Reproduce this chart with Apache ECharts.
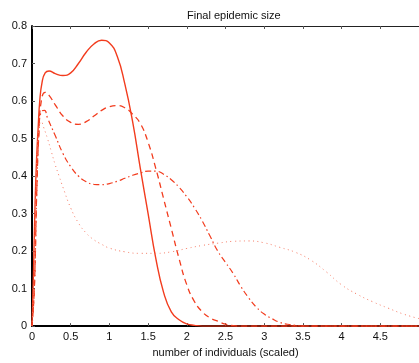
<!DOCTYPE html>
<html>
<head>
<meta charset="utf-8">
<script src="https://cdn.jsdelivr.net/npm/echarts@6/dist/echarts.min.js"></script>
<style>html,body{margin:0;padding:0;background:#fff}#c{width:419px;height:363px}</style>
</head>
<body>
<div id="c"></div>
<script>
var xTickLabels = ['0','0.5','1','1.5','2','2.5','3','3.5','4','4.5'];
var yTickLabels = ['0','0.1','0.2','0.3','0.4','0.5','0.6','0.7','0.8'];

var solidX = [0,0.02,0.04,0.06,0.08,0.1,0.13,0.17,0.22,0.3,0.4,0.5,0.6,0.7,0.8,0.9,1.0,1.1,1.2,1.3,1.4,1.5,1.6,1.7,1.8,1.9,2.0,2.1,2.2,5];
var solidY = [0,0.15,0.33,0.45,0.53,0.6,0.65,0.675,0.68,0.673,0.668,0.675,0.7,0.73,0.752,0.762,0.755,0.72,0.645,0.545,0.42,0.3,0.18,0.09,0.038,0.017,0.006,0.002,0,0];

var dashX = [0,0.03,0.06,0.09,0.12,0.17,0.22,0.3,0.4,0.5,0.6,0.7,0.8,0.9,1.0,1.1,1.2,1.3,1.4,1.5,1.6,1.7,1.8,1.9,2.0,2.1,2.2,2.3,2.4,2.5,2.6,2.7,5];
var dashY = [0,0.1,0.35,0.52,0.6,0.623,0.615,0.59,0.56,0.543,0.538,0.545,0.56,0.575,0.585,0.588,0.582,0.565,0.54,0.49,0.42,0.34,0.26,0.18,0.11,0.065,0.038,0.022,0.013,0.005,0.001,0,0];

var dashDotX = [0,0.03,0.06,0.09,0.12,0.16,0.2,0.3,0.4,0.5,0.6,0.7,0.8,0.9,1.0,1.1,1.2,1.3,1.4,1.5,1.6,1.7,1.8,1.9,2.0,2.1,2.2,2.3,2.4,2.5,2.6,2.7,2.8,2.9,3.0,3.1,3.2,3.3,3.4,3.5,5];
var dashDotY = [0,0.1,0.35,0.52,0.572,0.575,0.555,0.508,0.46,0.425,0.4,0.385,0.378,0.377,0.38,0.386,0.394,0.402,0.408,0.413,0.413,0.405,0.39,0.37,0.345,0.315,0.28,0.24,0.2,0.17,0.14,0.105,0.075,0.05,0.032,0.02,0.01,0.005,0.002,0,0];

var dotX = [0,0.03,0.06,0.09,0.12,0.15,0.2,0.25,0.3,0.35,0.4,0.5,0.6,0.7,0.8,0.9,1.0,1.2,1.4,1.6,1.8,2.0,2.2,2.4,2.6,2.8,3.0,3.2,3.4,3.6,3.8,4.0,4.2,4.4,4.6,4.8,5.0];
var dotY = [0,0.15,0.42,0.53,0.545,0.53,0.5,0.465,0.43,0.4,0.37,0.315,0.275,0.248,0.23,0.218,0.208,0.198,0.194,0.194,0.198,0.207,0.215,0.221,0.226,0.227,0.222,0.21,0.197,0.176,0.145,0.11,0.085,0.065,0.048,0.032,0.02];

function pairs(xs, ys){ return xs.map(function(x,i){ return [x, ys[i]]; }); }

var red = '#f23c1e';
var font = 'Liberation Sans, Arial, Helvetica, sans-serif';

function mkSeries(xs, ys, type, w, color){
  return {type:'line', data:pairs(xs,ys), showSymbol:false, smooth:0.5,
    lineStyle:{color:color || red, width:w, type:type}, clip:true, animation:false};
}

var chart = echarts.init(document.getElementById('c'), null, {renderer:'canvas'});
chart.setOption({
  animation:false,
  backgroundColor:'#fff',
  title:{text:'Final epidemic size', left:182, top:5,
    textStyle:{fontSize:11, fontWeight:'normal', color:'#111', fontFamily:font}},
  grid:{left:32, right:-6, top:26, bottom:29, containLabel:false},
  xAxis:[{
    type:'value', min:0, max:5, interval:0.5, position:'bottom',
    name:'number of individuals (scaled)', nameLocation:'middle', nameGap:17,
    nameTextStyle:{fontSize:11, color:'#111', fontFamily:font},
    axisLine:{show:true, onZero:false, lineStyle:{color:'#000', width:2}},
    axisTick:{show:true, inside:true, length:3, lineStyle:{color:'#555', width:1}},
    axisLabel:{fontSize:11, color:'#111', fontFamily:font, margin:5, showMaxLabel:false,
      formatter:function(v,i){ return xTickLabels[i] !== undefined ? xTickLabels[i] : ''; }},
    splitLine:{show:false}
  },{
    type:'value', min:0, max:5, interval:0.5, position:'top',
    axisLine:{show:true, onZero:false, lineStyle:{color:'#222', width:1}},
    axisTick:{show:true, inside:true, length:3, lineStyle:{color:'#555', width:1}},
    axisLabel:{show:false}, splitLine:{show:false}
  }],
  yAxis:{
    type:'value', min:0, max:0.8, interval:0.1,
    axisLine:{show:true, lineStyle:{color:'#000', width:2}},
    axisTick:{show:true, inside:true, length:3, lineStyle:{color:'#555', width:1}},
    axisLabel:{fontSize:11, color:'#111', fontFamily:font, margin:5,
      formatter:function(v,i){ return yTickLabels[Math.round(v*10)]; }},
    splitLine:{show:false}
  },
  series:[
    mkSeries(solidX, solidY, 'solid', 1.4),
    mkSeries(dashX, dashY, [6,4], 1.3),
    mkSeries(dashDotX, dashDotY, [6,3,1.5,3], 1.2),
    mkSeries(dotX, dotY, [1,3.5], 1, '#f57a64')
  ]
});
</script>
</body>
</html>
